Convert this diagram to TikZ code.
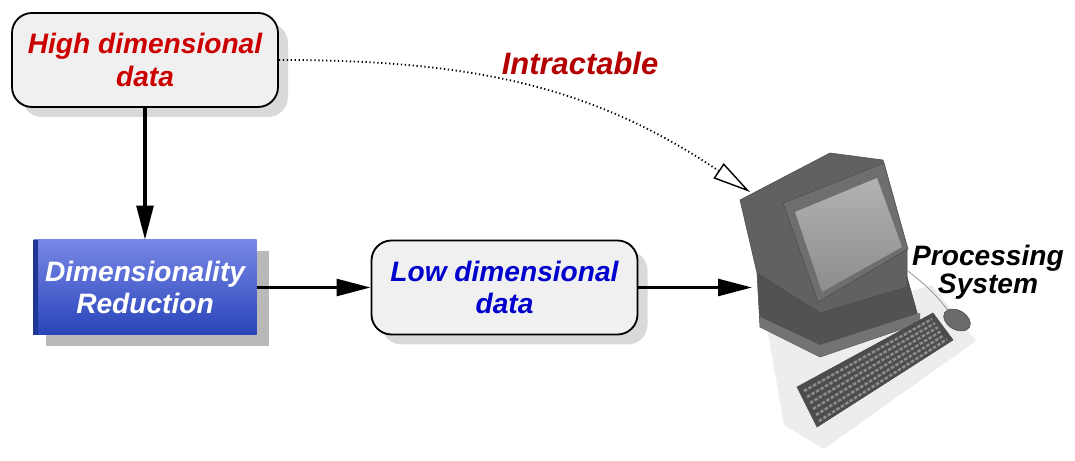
\documentclass[tikz,border=0pt]{standalone}
\usepackage{fontspec}
\setmainfont{Liberation Sans}
\usetikzlibrary{calc, shadows, arrows.meta}
\definecolor{highred}{RGB}{205,0,0}
\definecolor{intred}{RGB}{180,0,0}
\definecolor{lowblue}{RGB}{0,0,205}
\definecolor{dimtop}{RGB}{120,135,230}
\definecolor{dimmid}{RGB}{55,85,200}
\definecolor{dimbot}{RGB}{40,68,185}
\newcommand{\boxfont}{\fontsize{20}{23}\selectfont\bfseries\itshape}

\begin{document}
\begin{tikzpicture}[
    databox/.style = {draw, line width=1.3pt, rounded corners=0.5cm, fill=gray!12,
        minimum width=6.65cm, minimum height=2.35cm, align=center, font=\boxfont,
        drop shadow={shadow xshift=0.25cm, shadow yshift=-0.25cm, fill=gray!30, opacity=1}},
    flow/.style = {line width=2.2pt, -{Triangle[length=0.85cm, width=0.42cm]}},
    pcpart/.style = {draw=black!70, line width=0.4pt}
]
    \useasboundingbox (0, 0) rectangle (26.875, 11.525);

    \coordinate (pc_top) at (18.75, 6.725);
    \coordinate (pc_left) at (18.8, 4.3375);

    \node[databox, text=highred] (high_data) at (3.625, 10.025) {High dimensional\\data};
    \node[align = center, font=\boxfont, text=white, minimum width=5.575cm, minimum height=2.375cm,
        top color=dimtop, middle color=dimmid, bottom color=dimbot,
        drop shadow={shadow xshift=0.3cm, shadow yshift=-0.28cm, fill=gray!55, opacity=1}]
        (dim_red) at (3.625, 4.3375) {Dimensionality\\Reduction};
    \fill[dimbot!80!black] (dim_red.north west) rectangle ($(dim_red.south west)+(0.12,0)$);
    \node[databox, text=lowblue] (low_data) at (12.6125, 4.3375) {Low dimensional\\data};

    \draw[flow] (high_data) -- (dim_red);
    \draw[flow] (dim_red) -- (low_data);
    \draw[flow] (low_data) -- (pc_left);

    \draw[line width=1.3pt, dash pattern=on 0.9pt off 1.9pt,
        -{Triangle[open, length=0.95cm, width=0.45cm, line width=1pt]}]
        (high_data.east) to[out=0, in=146] (pc_top);
    \node[font=\fontsize{22}{24}\selectfont\bfseries\itshape, text=intred] (intract) at (14.5, 9.95) {Intractable};

    % computer
    \fill[black!7] (19.2, 3.2) -- (23.3, 4.4) -- (24.4, 3.0) -- (20.6, 0.3) -- (19.6, 0.9) -- cycle;
    \coordinate (case_a) at (18.925, 4.7);
    \coordinate (case_b) at (22.675, 4.6);
    \coordinate (case_c) at (23, 3.45);
    \coordinate (case_d) at (20.5, 2.6);
    \coordinate (case_e) at (19, 3.35);
    \fill[pcpart, fill=black!68] (case_a) -- (case_b) -- (case_c) -- (case_d) -- (case_e) -- cycle;
    \fill[black!55] (case_e) -- (case_d) -- (case_c) -- ($(case_c)+(0,0.25)$) -- ($(case_d)+(0,0.3)$) -- ($(case_e)+(0,0.25)$) -- cycle;

    \fill[pcpart, fill=black!62] (18.5, 6.525) -- (20.75, 7.7) -- (22.075, 7.525) -- (22.675, 5.275)
        -- (22.675, 4.35) -- (20.5, 3.7) -- (18.925, 4.7) -- cycle;
    \fill[pcpart, fill=black!57] (19.575, 6.45) -- (22.1, 7.45) -- (22.7, 5.3) -- (20.45, 3.975) -- cycle;
    \shade[top color=black!30, bottom color=black!45] (19.875, 6.225) -- (21.925, 7.075) -- (22.55, 5.35) -- (20.55, 4.225) -- cycle;

    \coordinate (kb_a) at (19.925, 1.85);
    \coordinate (kb_b) at (23.325, 3.7);
    \coordinate (kb_c) at (23.825, 3.025);
    \coordinate (kb_d) at (20.425, 0.85);
    \fill[pcpart, fill=black!70] (kb_a) -- (kb_b) -- (kb_c) -- (kb_d) -- cycle;
    \foreach \t in {0.15, 0.3, 0.45, 0.6, 0.75, 0.9}
        \draw[black!45, line width=1.8pt, dash pattern=on 2.5pt off 1.2pt]
            ($(kb_a)!\t!(kb_d)+(0.1,0.05)$) -- ($(kb_b)!\t!(kb_c)-(0.1,0.05)$);

    \draw[black!40, line width=0.6pt] (23.75, 3.7) .. controls (23.3, 4.3) and (23.0, 4.5) .. (22.7, 4.75);
    \fill[pcpart, fill=black!58, rotate around={-30:(23.925, 3.525)}] (23.925, 3.525) ellipse (0.36cm and 0.24cm);

    \node[align = center, font=\fontsize{20}{20.5}\selectfont\bfseries\itshape] (proc_sys) at (24.7, 4.72) {Processing\\System};
\end{tikzpicture}
\end{document}
